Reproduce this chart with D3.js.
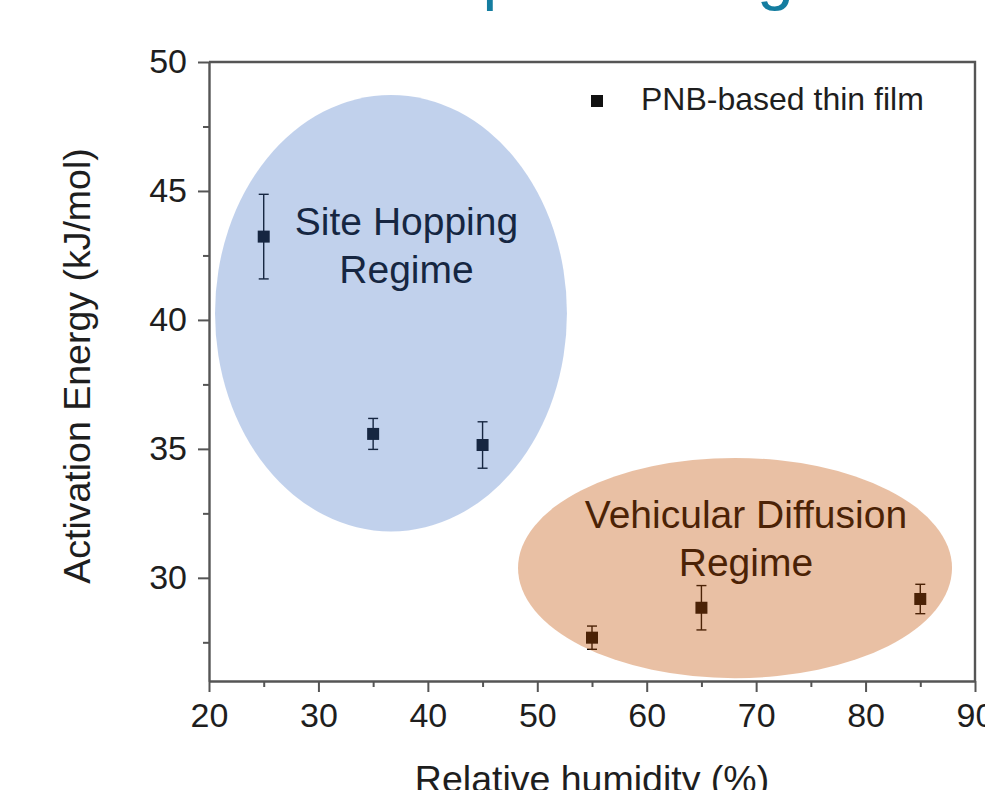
<!DOCTYPE html>
<html>
<head>
<meta charset="utf-8">
<script src="https://cdn.jsdelivr.net/npm/d3@7"></script>
<style>
    html, body { margin: 0; padding: 0; background: #fff; }
    svg { display: block; font-family: "Liberation Sans", Arial, Helvetica, sans-serif; }
</style>
</head>
<body>
<svg id="chart" width="985" height="790"></svg>
<script>
// measured points (RH %, Ea kJ/mol, error bar half-width)
const humidity = [25, 35, 45, 55, 65, 85];
const energy = [43.23, 35.58, 35.15, 27.68, 28.84, 29.18];
const energyErr = [1.64, 0.60, 0.90, 0.45, 0.86, 0.57];

const xTicks = [20, 30, 40, 50, 60, 70, 80, 90];
const yTicks = [30, 35, 40, 45, 50];
const xMinorTicks = [25, 35, 45, 55, 65, 75, 85];
const yMinorTicks = [27.5, 32.5, 37.5, 42.5, 47.5];

// regime ellipses, in data units
const regimeNames = [['Site Hopping', 'Regime'], ['Vehicular Diffusion', 'Regime']];
const regimeCx = [36.63, 68.07];
const regimeCy = [40.26, 30.38];
const regimeRx = [16.08, 19.83];
const regimeRy = [8.46, 4.27];
const regimeLabelX = [38.05, 69.07];
const regimeLabelY = [43.29, 31.93];

const seriesName = 'PNB-based thin film';

(function () {
    'use strict';

    const regimeColors = ['#4472c4', '#c55a11'];
    const regimeOpacity = [0.33, 0.38];
    const axisColor = '#555';
    const textColor = '#1e1e1e';

    const svg = d3.select('#chart');
    const x = d3.scaleLinear().domain([20, 90]).range([209, 975]);
    const y = d3.scaleLinear().domain([26, 50]).range([681, 62]);

    // leftovers of the slide title above the chart
    svg.append('text').attr('x', 482.6).attr('y', -3)
        .attr('font-size', 66).attr('fill', '#147da0').text('p');
    svg.append('text').attr('x', 757).attr('y', -3)
        .attr('font-size', 66).attr('fill', '#147da0').text('g');

    const styleAxis = (sel) => {
        sel.select('.domain').attr('stroke', axisColor).attr('stroke-width', 2.4);
        sel.selectAll('.tick line').attr('stroke', axisColor).attr('stroke-width', 2);
        sel.selectAll('.tick text').attr('font-size', 34).attr('fill', textColor)
            .attr('font-family', '"Liberation Sans", Arial, sans-serif');
    };

    // frame (top + right)
    svg.append('path')
        .attr('d', `M${x(20)},${y(50)}H${x(90)}V${y(26)}`)
        .attr('fill', 'none')
        .attr('stroke', axisColor)
        .attr('stroke-width', 2.4);

    svg.append('g')
        .attr('transform', `translate(0,${y(26)})`)
        .call(d3.axisBottom(x).tickValues(xMinorTicks).tickSize(6).tickFormat(''))
        .call((g) => g.select('.domain').remove())
        .call(styleAxis);

    svg.append('g')
        .attr('transform', `translate(${x(20)},0)`)
        .call(d3.axisLeft(y).tickValues(yMinorTicks).tickSize(6).tickFormat(''))
        .call((g) => g.select('.domain').remove())
        .call(styleAxis);

    svg.append('g')
        .attr('transform', `translate(0,${y(26)})`)
        .call(d3.axisBottom(x).tickValues(xTicks).tickSize(11).tickSizeOuter(0).tickPadding(11))
        .call(styleAxis);

    svg.append('g')
        .attr('transform', `translate(${x(20)},0)`)
        .call(d3.axisLeft(y).tickValues(yTicks).tickSize(11).tickSizeOuter(0).tickPadding(11))
        .call(styleAxis);

    // axis titles
    svg.append('text')
        .attr('transform', 'translate(90,366) rotate(-90)')
        .attr('text-anchor', 'middle')
        .attr('font-size', 37.5)
        .attr('fill', textColor)
        .text('Activation Energy (kJ/mol)');

    svg.append('text')
        .attr('x', 592)
        .attr('y', 792)
        .attr('text-anchor', 'middle')
        .attr('font-size', 37.5)
        .attr('fill', textColor)
        .text('Relative humidity (%)');

    // error bars + points
    const points = humidity.map((h, i) => ({ h, e: energy[i], err: energyErr[i] }));
    const bars = svg.append('g').attr('stroke', '#000').attr('stroke-width', 1.4);
    points.forEach((p) => {
        const px = x(p.h);
        bars.append('line').attr('x1', px).attr('x2', px)
            .attr('y1', y(p.e - p.err)).attr('y2', y(p.e + p.err));
        bars.append('line').attr('x1', px - 5).attr('x2', px + 5)
            .attr('y1', y(p.e - p.err)).attr('y2', y(p.e - p.err));
        bars.append('line').attr('x1', px - 5).attr('x2', px + 5)
            .attr('y1', y(p.e + p.err)).attr('y2', y(p.e + p.err));
    });

    svg.append('g').selectAll('rect')
        .data(points)
        .join('rect')
        .attr('x', (d) => x(d.h) - 6)
        .attr('y', (d) => y(d.e) - 6)
        .attr('width', 12)
        .attr('height', 12)
        .attr('fill', '#000');

    // regime labels (sit under the tinted ellipses)
    regimeNames.forEach((lines, i) => {
        const t = svg.append('text')
            .attr('text-anchor', 'middle')
            .attr('font-size', 39)
            .attr('fill', '#000');
        lines.forEach((line, j) => {
            t.append('tspan')
                .attr('x', x(regimeLabelX[i]))
                .attr('y', y(regimeLabelY[i]) + j * 47.5)
                .text(line);
        });
    });

    // translucent regime ellipses drawn on top
    regimeNames.forEach((_, i) => {
        svg.append('ellipse')
            .attr('cx', x(regimeCx[i]))
            .attr('cy', y(regimeCy[i]))
            .attr('rx', x(regimeCx[i] + regimeRx[i]) - x(regimeCx[i]))
            .attr('ry', y(regimeCy[i]) - y(regimeCy[i] + regimeRy[i]))
            .attr('fill', regimeColors[i])
            .attr('fill-opacity', regimeOpacity[i]);
    });

    // legend
    svg.append('rect')
        .attr('x', 591).attr('y', 95)
        .attr('width', 12).attr('height', 12)
        .attr('fill', '#111');
    svg.append('text')
        .attr('x', 641).attr('y', 110)
        .attr('font-size', 32)
        .attr('fill', textColor)
        .text(seriesName);
})();
</script>
</body>
</html>
